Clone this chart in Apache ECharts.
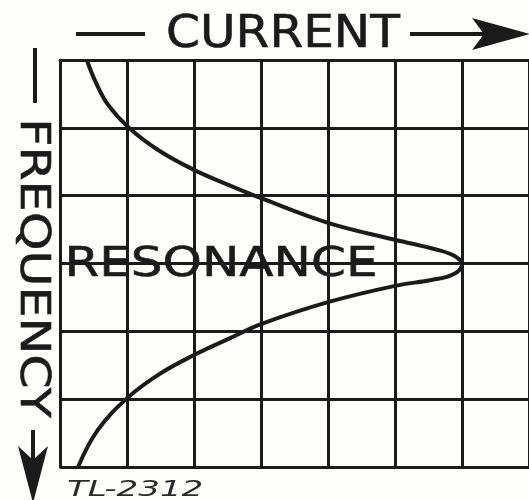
<!DOCTYPE html>
<html>
<head>
<meta charset="utf-8">
<script src="https://cdn.jsdelivr.net/npm/echarts@6/dist/echarts.min.js"></script>
<style>
  html, body { margin: 0; padding: 0; background: #fdfdfc; }
  #chart { width: 529px; height: 500px; }
</style>
</head>
<body>
<div id="chart"></div>
<script>
// resonance curve (current to the right, frequency downward)
const curveCurrent = [0.40, 0.53, 0.71, 1.02, 1.47, 2.0, 2.51, 3.01, 4.0, 5.0, 5.6, 5.87, 6.0, 5.87, 5.56, 5.0, 4.0, 3.01, 2.54, 2.0, 1.5, 1.02, 0.56, 0.27];
const curveFrequency = [0, 0.32, 0.65, 0.99, 1.33, 1.62, 1.84, 2.04, 2.40, 2.65, 2.79, 2.88, 3.01, 3.16, 3.24, 3.33, 3.57, 3.89, 4.10, 4.35, 4.62, 4.97, 5.46, 6.0];

const currentTicks = [0, 1, 2, 3, 4, 5, 6, 7];
const frequencyTicks = [0, 1, 2, 3, 4, 5, 6];

const ink = '#1b1b1b';

const chart = echarts.init(document.getElementById('chart'), null, { renderer: 'canvas' });

const gridLine = { show: true, lineStyle: { color: ink, width: 3 } };

// lettering is a bit heavier than a plain font, so give it a thin outline
const lettering = (size) => ({
  font: size + 'px "DejaVu Sans"', fill: ink, stroke: ink, lineWidth: 0.6,
  align: 'center', verticalAlign: 'middle'
});

chart.setOption({
  animation: false,
  backgroundColor: '#fdfdfc',
  grid: { left: 60, top: 60, width: 475, height: 407 },
  xAxis: {
    type: 'value',
    min: currentTicks[0],
    max: currentTicks[currentTicks.length - 1],
    interval: 1,
    axisLine: gridLine,
    axisTick: { show: false },
    axisLabel: { show: false },
    splitLine: gridLine
  },
  yAxis: {
    type: 'value',
    inverse: true,
    min: frequencyTicks[0],
    max: frequencyTicks[frequencyTicks.length - 1],
    interval: 1,
    axisLine: gridLine,
    axisTick: { show: false },
    axisLabel: { show: false },
    splitLine: gridLine
  },
  series: [{
    type: 'line',
    data: curveCurrent.map((c, i) => [c, curveFrequency[i]]),
    smooth: 0.4,
    symbol: 'none',
    lineStyle: { color: ink, width: 4 },
    z: 3
  }],
  graphic: [
    // top caption with arrows
    { type: 'line', shape: { x1: 76, y1: 34, x2: 145, y2: 34 }, style: { stroke: ink, lineWidth: 4 } },
    { type: 'text', x: 283, y: 35, scaleX: 1.08, style: Object.assign({ text: 'CURRENT' }, lettering(45)) },
    { type: 'line', shape: { x1: 410, y1: 34, x2: 490, y2: 34 }, style: { stroke: ink, lineWidth: 4 } },
    { type: 'polygon', shape: { points: [[472, 18], [530, 34], [472, 50], [484, 34]] }, style: { fill: ink } },

    // side caption, reads downward
    { type: 'line', shape: { x1: 35, y1: 48, x2: 35, y2: 103 }, style: { stroke: ink, lineWidth: 4 } },
    {
      type: 'text', x: 32, y: 268, rotation: -Math.PI / 2, scaleX: 1.2,
      style: Object.assign({ text: 'FREQUENCY' }, lettering(41))
    },
    { type: 'line', shape: { x1: 33, y1: 430, x2: 33, y2: 470 }, style: { stroke: ink, lineWidth: 4 } },
    { type: 'polygon', shape: { points: [[18, 446], [33, 503], [48, 446], [33, 460]] }, style: { fill: ink } },

    // label on the resonance line
    { type: 'text', x: 221, y: 265, scaleX: 1.22, z: 10, style: Object.assign({ text: 'RESONANCE' }, lettering(41)) },

    // figure number
    {
      type: 'text', x: 67, y: 490, scaleX: 1.55,
      style: { text: 'TL-2312', font: 'italic 22px "DejaVu Sans"', fill: '#2a2a2a', align: 'left', verticalAlign: 'middle' }
    }
  ]
});
</script>
</body>
</html>
